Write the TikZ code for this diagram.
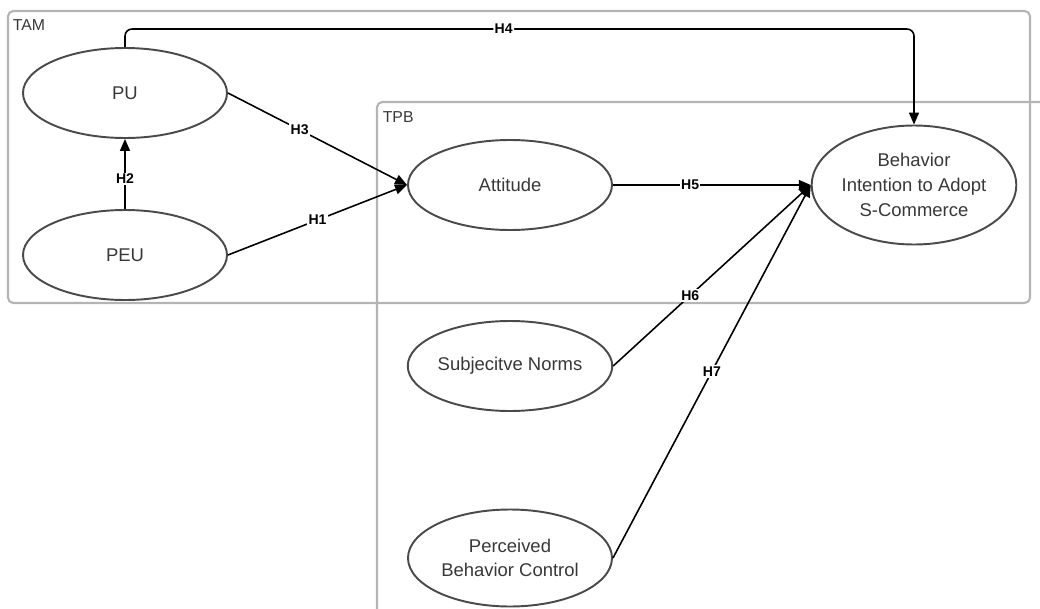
\documentclass[tikz,border=0pt]{standalone}
\usepackage{fontspec}
\setmainfont{Liberation Sans}
\usetikzlibrary{arrows.meta, shapes.geometric, calc}
\definecolor{cframe}{HTML}{B4B4B4}
\definecolor{cedge}{HTML}{4A4A4A}
\definecolor{ctext}{HTML}{383838}
\tikzset{
  every picture/.style={line width=0.9pt},
  construct/.style={ellipse, draw=cedge, line width=1.1pt, text=ctext, align=center, inner sep=0pt,
                    minimum width=4.08cm, minimum height=1.8cm, font=\fontsize{10.5}{14}\selectfont},
  arrow/.style={-{Triangle[length=2.4mm, width=2mm]}, draw=black, line width=0.9pt},
  hyp/.style={fill=white, inner sep=0.8pt, font=\fontsize{8}{9}\selectfont\bfseries},
  frame/.style={draw=cframe, line width=1.2pt, rounded corners=3pt},
  tag/.style={anchor=base west, text=ctext, inner sep=0pt, font=\fontsize{9}{10}\selectfont},
}

\begin{document}
\begin{tikzpicture}
  \useasboundingbox (0,0) rectangle (20.8,-12.18);
  % the two model frames
  \draw[frame] (0.16,-0.22) rectangle (20.6,-6.06);
  \draw[frame] (20.9,-2.04) -- (7.54,-2.04) -- (7.54,-12.4);
  \node[tag] (tam) at (0.24,-0.6) {TAM};
  \node[tag] (tpb) at (7.64,-2.44) {TPB};
  % constructs
  \node[construct] (pu) at (2.5,-1.86) {PU};
  \node[construct] (peu) at (2.5,-5.1) {PEU};
  \node[construct] (att) at (10.2,-3.7) {Attitude};
  \node[construct, minimum width=4.02cm, minimum height=2.38cm] (bic) at (18.28,-3.7) {Behavior\\Intention to Adopt\\S-Commerce};
  \node[construct] (sn) at (10.2,-7.32) {Subjecitve Norms};
  \node[construct, minimum height=1.94cm] (pbc) at (10.2,-11.16) {Perceived\\Behavior Control};
  % hypotheses
  \coordinate (h4c) at (bic.north |- 0,-0.58);
  \draw[arrow, rounded corners=4pt] (pu.north) |- node[hyp, pos=0.74] {H4} (h4c) -- (bic.north);
  \foreach \s/\t/\h/\p in {pu.east/att.west/H3/0.4, peu.east/att.west/H1/0.5, peu.north/pu.south/H2/0.43,
                           att.east/bic.west/H5/0.39, sn.east/bic.west/H6/0.39, pbc.east/bic.west/H7/0.5}
    \draw[arrow] (\s) -- node[hyp, pos=\p] {\h} (\t);
\end{tikzpicture}
\end{document}
